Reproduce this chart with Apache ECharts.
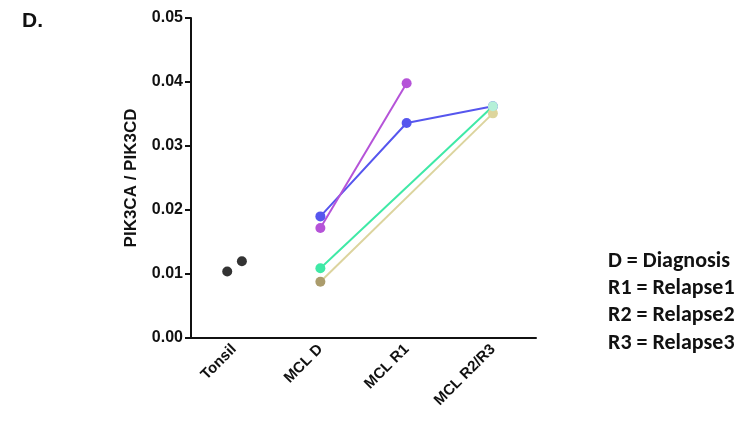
<!DOCTYPE html>
<html><head><meta charset="utf-8">
<script src="https://cdn.jsdelivr.net/npm/echarts@6/dist/echarts.min.js"></script>
<style>html,body{margin:0;padding:0;background:#fff}#c{width:747px;height:423px}</style>
</head><body><div id="c"></div>
<script>
const categories = ['Tonsil', 'MCL D', 'MCL R1', 'MCL R2/R3'];
const yTicks = [0, 0.01, 0.02, 0.03, 0.04, 0.05];
// Tonsil: [jittered x position (category units), value]
const tonsilPoints = [[-0.08, 0.0104], [0.09, 0.0120]];
// Patient series across categories (null = not measured)
const patientBlue = [null, 0.0190, 0.0336, 0.0362];
const patientPurple = [null, 0.0172, 0.0398, null];
const patientGreen = [null, 0.0109, null, 0.0362];
const patientTan = [null, 0.0088, null, 0.0351];
const legendLines = ['D = Diagnosis', 'R1 = Relapse1', 'R2 = Relapse2', 'R3 = Relapse3'];

const chart = echarts.init(document.getElementById('c'), null, {renderer: 'canvas'});
const F = 'Liberation Sans, Arial, sans-serif';

function lineSeries(name, data, lineColor, markerColors) {
  return {
    name, type: 'line', xAxisIndex: 0, yAxisIndex: 0,
    connectNulls: true, symbol: 'circle', symbolSize: 10,
    lineStyle: {color: lineColor, width: 2},
    itemStyle: {color: lineColor, opacity: 1},
    data: data.map((v, i) => v === null ? null : {
      value: v, itemStyle: {color: (markerColors && markerColors[i]) || lineColor}
    }),
    z: 3
  };
}

chart.setOption({
  animation: false,
  title: {text: 'D.', left: 17, top: 6, textStyle: {fontFamily: F, fontWeight: 'bold', fontSize: 21, color: '#111'}},
  grid: {left: 191, right: 211, top: 18, bottom: 85, containLabel: false},
  xAxis: [{
    type: 'category', data: categories, boundaryGap: true,
    axisLine: {lineStyle: {color: '#111', width: 2}},
    axisTick: {alignWithLabel: true, length: 7, lineStyle: {color: '#111', width: 2}},
    axisLabel: {rotate: 45, margin: 9, fontFamily: F, fontWeight: 'bold', fontSize: 15, color: '#111'},
    splitLine: {show: false}
  }, {
    type: 'value', min: -0.5, max: 3.5, show: false
  }],
  yAxis: {
    type: 'value', min: yTicks[0], max: yTicks[yTicks.length - 1], interval: 0.01,
    name: 'PIK3CA / PIK3CD', nameLocation: 'middle', nameGap: 51,
    nameTextStyle: {fontFamily: F, fontWeight: 'bold', fontSize: 17, color: '#111'},
    axisLine: {show: true, onZero: false, lineStyle: {color: '#111', width: 2}},
    axisTick: {show: true, length: 6, lineStyle: {color: '#111', width: 2}},
    axisLabel: {margin: 8, fontFamily: F, fontWeight: 'bold', fontSize: 16, color: '#111',
      formatter: v => v.toFixed(2)},
    splitLine: {show: false}
  },
  series: [
    {type: 'scatter', xAxisIndex: 1, yAxisIndex: 0, symbolSize: 10,
      itemStyle: {color: '#333', opacity: 1}, data: tonsilPoints},
    lineSeries('blue', patientBlue, '#5656ee'),
    lineSeries('purple', patientPurple, '#b553d8'),
    lineSeries('tan', patientTan, '#dcd49e', [null, '#ab9c6c', null, '#ddd59c']),
    lineSeries('green', patientGreen, '#3fe9a6', [null, '#3fe9a6', null, '#b5f0d8'])
  ],
  graphic: legendLines.map((t, i) => ({
    type: 'text', x: 608, y: 261 + i * 27.4,
    style: {text: t, fontFamily: 'Carlito, Calibri, Lato, sans-serif', fontWeight: 'bold', fontSize: 22,
      fill: '#111', verticalAlign: 'middle'}
  }))
});
</script></body></html>
